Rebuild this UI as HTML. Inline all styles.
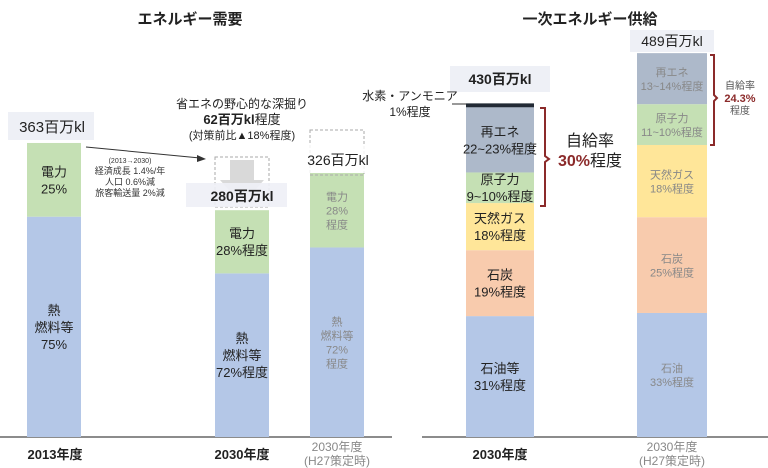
<!DOCTYPE html>
<html><head><meta charset="utf-8"><style>
body{margin:0;background:#fff;}
svg{display:block;font-family:"Liberation Sans","Noto Sans CJK JP",sans-serif;}
</style></head><body>
<svg id="c" width="768" height="468" viewBox="0 0 768 468" xmlns="http://www.w3.org/2000/svg">
<text x="190" y="24" text-anchor="middle" font-size="15" font-weight="bold" fill="#222">エネルギー需要</text>
<text x="590" y="24" text-anchor="middle" font-size="15" font-weight="bold" fill="#222">一次エネルギー供給</text>
<line x1="0" y1="437" x2="392" y2="437" stroke="#666" stroke-width="1.5"/>
<line x1="422" y1="437" x2="768" y2="437" stroke="#666" stroke-width="1.5"/>
<g id="bars"></g>
<rect x="8" y="112" width="86" height="28" fill="#eef0f6"/>
<text x="52" y="132" text-anchor="middle" font-size="15" fill="#222">363百万kl</text>
<line x1="86" y1="147" x2="200" y2="158" stroke="#333" stroke-width="1"/>
<polygon points="206,159 197,155 197,162" fill="#333"/>
<text x="130" y="163" text-anchor="middle" font-size="7" fill="#333">(2013→2030)</text>
<text x="130" y="174" text-anchor="middle" font-size="9" fill="#333">経済成長 1.4%/年</text>
<text x="130" y="185" text-anchor="middle" font-size="9" fill="#333">人口 0.6%減</text>
<text x="130" y="196" text-anchor="middle" font-size="9" fill="#333">旅客輸送量 2%減</text>
<text x="242" y="108" text-anchor="middle" font-size="12" fill="#222">省エネの野心的な深掘り</text>
<text x="242" y="124" text-anchor="middle" font-size="13" fill="#222"><tspan font-weight="bold">62百万kl</tspan>程度</text>
<text x="242" y="139" text-anchor="middle" font-size="11" fill="#222">(対策前比▲18%程度)</text>
<rect x="215" y="157" width="54" height="50" fill="none" stroke="#aaa" stroke-dasharray="3,2"/>
<polygon points="230,160 254,160 254,180 264,180 242,205 220,180 230,180" fill="#d9d9d9"/>
<rect x="186" y="183" width="101" height="24" fill="#eef0f6" opacity="0.9"/>
<text x="242" y="201" text-anchor="middle" font-size="14" font-weight="bold" fill="#222">280百万kl</text>
<rect x="310" y="130" width="54" height="45" fill="none" stroke="#aaa" stroke-dasharray="3,2"/>
<rect x="292" y="145" width="92" height="28" fill="#fff" opacity="0.85"/>
<text x="338" y="165" text-anchor="middle" font-size="14" fill="#222">326百万kl</text>
<rect x="450" y="66" width="100" height="26" fill="#eef0f6"/>
<text x="500" y="84" text-anchor="middle" font-size="14" font-weight="bold" fill="#222">430百万kl</text>
<text x="410" y="100" text-anchor="middle" font-size="12" fill="#222">水素・アンモニア</text>
<text x="410" y="116" text-anchor="middle" font-size="12" fill="#222">1%程度</text>
<line x1="452" y1="104" x2="466" y2="104" stroke="#333"/>
<rect x="630" y="30" width="84" height="22" fill="#eef0f6"/>
<text x="672" y="46" text-anchor="middle" font-size="14" fill="#222">489百万kl</text>
<path d="M540,108 h5 v48 l4,3 l-4,3 v44 h-5" fill="none" stroke="#8b2a2a" stroke-width="2"/>
<text x="590" y="146" text-anchor="middle" font-size="16" fill="#222">自給率</text>
<text x="590" y="166" text-anchor="middle" font-size="16" fill="#222"><tspan font-weight="bold" fill="#8b2a2a">30%</tspan>程度</text>
<path d="M710,55 h4 v40 l3,3 l-3,3 v44 h-4" fill="none" stroke="#8b2a2a" stroke-width="2"/>
<text x="740" y="89" text-anchor="middle" font-size="10" fill="#555">自給率</text>
<text x="740" y="102" text-anchor="middle" font-size="11" font-weight="bold" fill="#8b2a2a">24.3%</text>
<text x="740" y="114" text-anchor="middle" font-size="10" fill="#555">程度</text>
<text x="55" y="459" text-anchor="middle" font-size="13" font-weight="bold" fill="#222">2013年度</text>
<text x="242" y="459" text-anchor="middle" font-size="13" font-weight="bold" fill="#222">2030年度</text>
<text x="337" y="451" text-anchor="middle" font-size="12" fill="#888">2030年度</text>
<text x="337" y="465" text-anchor="middle" font-size="12" fill="#888">(H27策定時)</text>
<text x="500" y="459" text-anchor="middle" font-size="13" font-weight="bold" fill="#222">2030年度</text>
<text x="672" y="451" text-anchor="middle" font-size="12" fill="#888">2030年度</text>
<text x="672" y="465" text-anchor="middle" font-size="12" fill="#888">(H27策定時)</text>
</svg>
<script>
const barNames=['demand-2013','demand-2030','demand-h27','supply-2030','supply-h27'];
const barX=[27,215,310,466,637];
const barW=[54,54,54,68,70];
const demand2013=[272,91];
const demand2030=[202,78];
const demandH27=[234,92];
const supply2030=[154,84,60,39,83,5];
const supplyH27=[158,122,92,52,65];
const series=[demand2013,demand2030,demandH27,supply2030,supplyH27];
const labels=[
 ['熱\n燃料等\n75%','電力\n25%'],
 ['熱\n燃料等\n72%程度','電力\n28%程度'],
 ['熱\n燃料等\n72%\n程度','電力\n28%\n程度'],
 ['石油等\n31%程度','石炭\n19%程度','天然ガス\n18%程度','原子力\n9~10%程度','再エネ\n22~23%程度',''],
 ['石油\n33%程度','石炭\n25%程度','天然ガス\n18%程度','原子力\n11~10%程度','再エネ\n13~14%程度']];
const demandColors=['#b4c7e7','#c5e0b4'];
const supplyColors=['#b4c7e7','#f8cbad','#ffe699','#c5e0b4','#adb9ca','#222a35'];
const baseY=437, scaleL=0.81, scaleR=0.785;
function y(v,i){return v*(i<3?scaleL:scaleR);}
const g=document.getElementById('bars');
const NS='http://www.w3.org/2000/svg';
series.forEach((vals,i)=>{
 let acc=0;
 const faded=(i===2||i===4);
 vals.forEach((v,j)=>{
  const h=y(v,i);
  const top=baseY-y(acc+v,i);
  const r=document.createElementNS(NS,'rect');
  r.setAttribute('x',barX[i]);r.setAttribute('y',top);
  r.setAttribute('width',barW[i]);r.setAttribute('height',h);
  r.setAttribute('fill',(i<3?demandColors:supplyColors)[j]);
  
  
  g.appendChild(r);
  const lines=labels[i][j].split('\n').filter(s=>s);
  const fs=faded?11:13, lh=faded?14:17;
  const cy=top+h/2-(lines.length-1)*lh/2+fs*0.38;
  lines.forEach((s,k)=>{
   const t=document.createElementNS(NS,'text');
   t.setAttribute('x',barX[i]+barW[i]/2);t.setAttribute('y',cy+k*lh);
   t.setAttribute('text-anchor','middle');t.setAttribute('font-size',fs);
   t.setAttribute('fill',faded?'#888':'#222');
   
   
   t.textContent=s;g.appendChild(t);
  });
  acc+=v;
 });
});
</script>
</body></html>
